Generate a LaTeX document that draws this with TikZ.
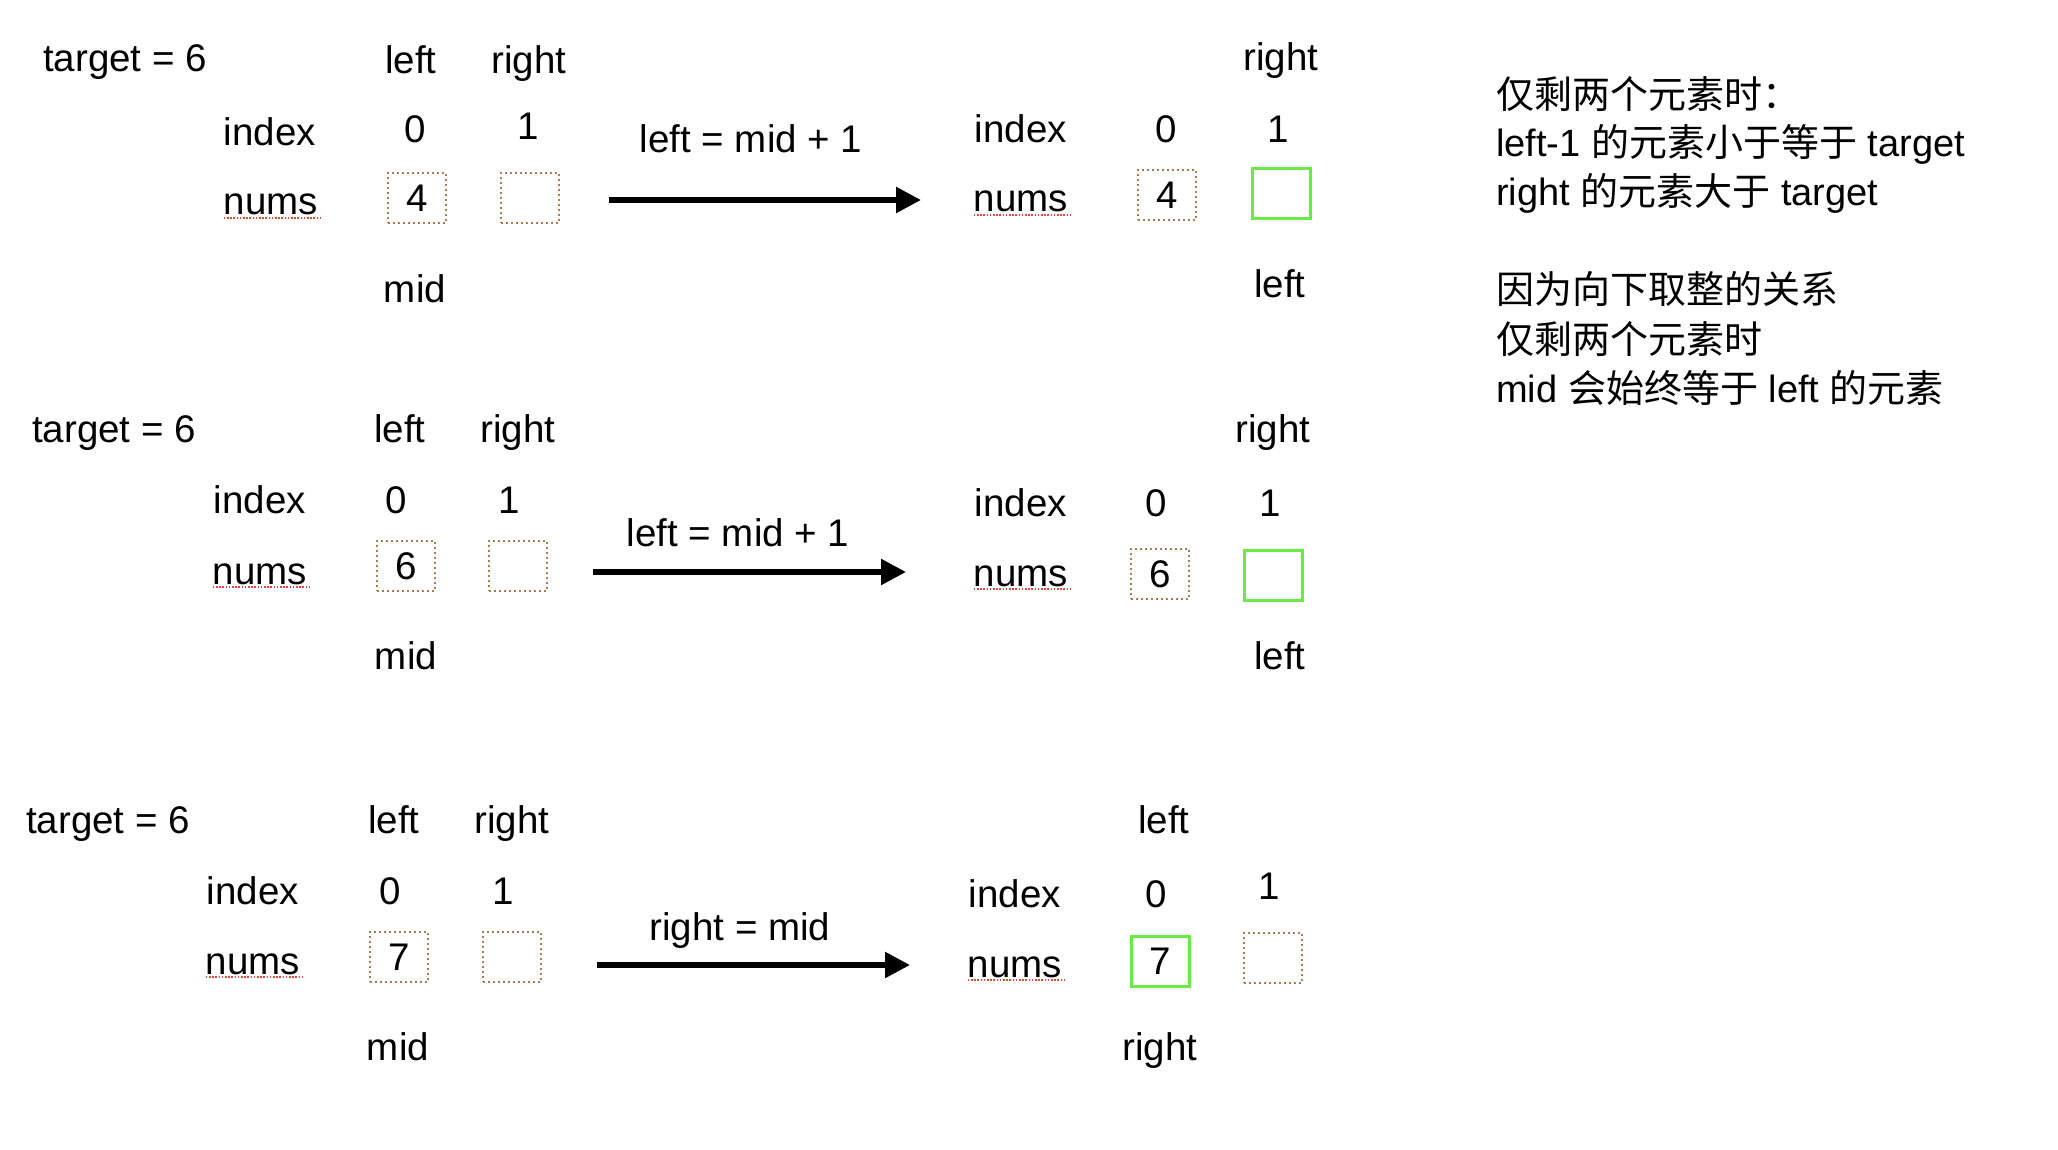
\documentclass[tikz,border=0pt]{standalone}
\usepackage{fontspec}
\setmainfont{Liberation Sans}
\newfontfamily\cjk{Noto Sans CJK SC}
\usetikzlibrary{arrows.meta}
\definecolor{boxbrown}{RGB}{166,124,82}
\definecolor{boxgreen}{RGB}{108,232,72}
\definecolor{ulred}{RGB}{232,70,60}
\begin{document}
\begin{tikzpicture}[x=1pt,y=-1pt,
  lbl/.style={inner sep=0pt, anchor=base, font=\fontsize{38.5}{46}\selectfont},
  cell/.style={minimum width=58pt, minimum height=50pt, inner sep=0pt, font=\fontsize{38.5}{46}\selectfont},
  dcell/.style={cell, draw=boxbrown, line width=2.2pt, dash pattern=on 2.2pt off 2.8pt},
  gcell/.style={cell, draw=boxgreen, line width=3pt},
  arr/.style={line width=5.5pt, -{Triangle[length=25pt,width=25pt]}},
  ul/.style={draw=ulred, line width=1.6pt, dash pattern=on 1.6pt off 1.6pt},
  note/.style={inner sep=0pt, anchor=base west, font=\fontsize{38}{46}\selectfont}
]
\useasboundingbox (0,0) rectangle (2058,1150);

% ---------- Row 1 ----------
\node[lbl] (t1) at (125,72) {target = 6};
\node[lbl] (l1) at (411,74) {left};
\node[lbl] (r1) at (529,74) {right};
\node[lbl] (i1) at (270,146) {index};
\node[lbl] (z1) at (415,143) {0};
\node[lbl] (o1) at (528,140) {1};
\node[lbl] (n1) at (271,215) {nums};
\draw[ul] ([yshift=-3pt]n1.base west) -- ([yshift=-3pt,xshift=2pt]n1.base east);
\node[dcell] (b1a) at (417,198) {4};
\node[dcell] (b1b) at (530,198) {};
\node[lbl] (m1) at (415,302) {mid};
\coordinate (a1s) at (609,200);
\coordinate (a1e) at (921,200);
\draw[arr] (a1s) -- (a1e);
\node[lbl] (op1) at (751,153) {left = mid + 1};
\node[lbl] (r1r) at (1281,71) {right};
\node[lbl] (i1r) at (1021,143) {index};
\node[lbl] (z1r) at (1166,143) {0};
\node[lbl] (o1r) at (1278,143) {1};
\node[lbl] (n1r) at (1021,212) {nums};
\draw[ul] ([yshift=-3pt]n1r.base west) -- ([yshift=-3pt,xshift=2pt]n1r.base east);
\node[dcell] (b1c) at (1167,195) {4};
\node[gcell] (b1d) at (1281,194) {};
\node[lbl] (l1r) at (1280,298) {left};

% ---------- Row 2 ----------
\node[lbl] (t2) at (114,442) {target = 6};
\node[lbl] (l2) at (400,442) {left};
\node[lbl] (r2) at (518,442) {right};
\node[lbl] (i2) at (260,513) {index};
\node[lbl] (z2) at (396,513) {0};
\node[lbl] (o2) at (509,513) {1};
\node[lbl] (n2) at (260,584) {nums};
\draw[ul] ([yshift=-3pt]n2.base west) -- ([yshift=-3pt,xshift=2pt]n2.base east);
\node[dcell] (b2a) at (406,566) {6};
\node[dcell] (b2b) at (518,566) {};
\node[lbl] (m2) at (406,669) {mid};
\coordinate (a2s) at (593,572);
\coordinate (a2e) at (906,572);
\draw[arr] (a2s) -- (a2e);
\node[lbl] (op2) at (738,546) {left = mid + 1};
\node[lbl] (r2r) at (1273,442) {right};
\node[lbl] (i2r) at (1021,516) {index};
\node[lbl] (z2r) at (1156,516) {0};
\node[lbl] (o2r) at (1270,516) {1};
\node[lbl] (n2r) at (1021,586) {nums};
\draw[ul] ([yshift=-3pt]n2r.base west) -- ([yshift=-3pt,xshift=2pt]n2r.base east);
\node[dcell] (b2c) at (1160,574) {6};
\node[gcell] (b2d) at (1273,575) {};
\node[lbl] (l2r) at (1280,669) {left};

% ---------- Row 3 ----------
\node[lbl] (t3) at (108,833) {target = 6};
\node[lbl] (l3) at (394,833) {left};
\node[lbl] (r3) at (512,833) {right};
\node[lbl] (i3) at (253,904) {index};
\node[lbl] (z3) at (390,904) {0};
\node[lbl] (o3) at (503,904) {1};
\node[lbl] (n3) at (253,974) {nums};
\draw[ul] ([yshift=-3pt]n3.base west) -- ([yshift=-3pt,xshift=2pt]n3.base east);
\node[dcell] (b3a) at (399,957) {7};
\node[dcell] (b3b) at (512,957) {};
\node[lbl] (m3) at (398,1060) {mid};
\coordinate (a3s) at (597,965);
\coordinate (a3e) at (910,965);
\draw[arr] (a3s) -- (a3e);
\node[lbl] (op3) at (740,940) {right = mid};
\node[lbl] (l3r) at (1164,833) {left};
\node[lbl] (i3r) at (1015,907) {index};
\node[lbl] (z3r) at (1156,907) {0};
\node[lbl] (o3r) at (1269,899) {1};
\node[lbl] (n3r) at (1015,977) {nums};
\draw[ul] ([yshift=-3pt]n3r.base west) -- ([yshift=-3pt,xshift=2pt]n3r.base east);
\node[gcell] (b3c) at (1160,961) {7};
\node[dcell] (b3d) at (1273,958) {};
\node[lbl] (r3r) at (1160,1060) {right};

% ---------- Notes ----------
\node[note] (nt1) at (1496,109) {\cjk 仅剩两个元素时：};
\node[note] (nt2) at (1496,157) {left-1 {\cjk 的元素小于等于} target};
\node[note] (nt3) at (1496,206) {right {\cjk 的元素大于} target};
\node[note] (nt4) at (1496,303) {\cjk 因为向下取整的关系};
\node[note] (nt5) at (1496,353) {\cjk 仅剩两个元素时};
\node[note] (nt6) at (1496,402) {mid {\cjk 会始终等于} left {\cjk 的元素}};
\end{tikzpicture}
\end{document}
